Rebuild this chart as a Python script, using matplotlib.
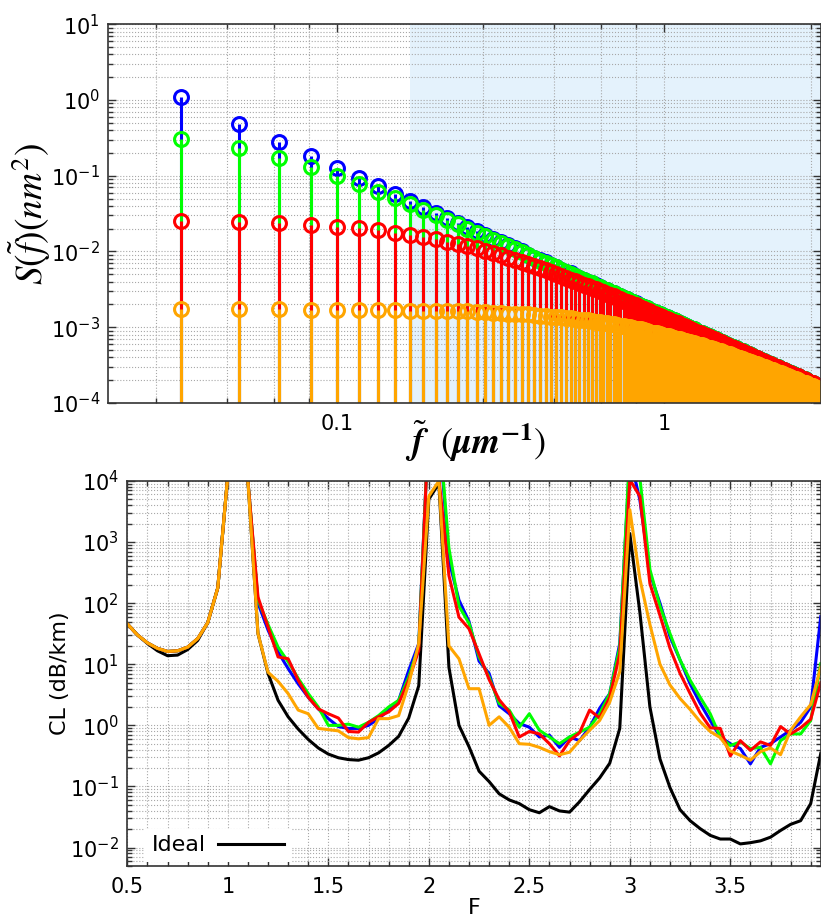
import numpy as np
import matplotlib
matplotlib.use("Agg")
import matplotlib.pyplot as plt
from matplotlib.ticker import FixedLocator, FixedFormatter, NullFormatter, LogLocator

plt.rcParams['font.family'] = ['DejaVu Sans']
plt.rcParams['mathtext.fontset'] = 'stix'

# roughness spectra, sampled at n/60 um^-1 (n = 2..180); values are log10 S in nm^2
f_stem = np.arange(2, 181) / 60
s_blue_log10 = [
    0.04, -0.31, -0.55, -0.74, -0.90, -1.03, -1.14, -1.24, -1.33, -1.41,
    -1.49, -1.56, -1.62, -1.68, -1.73, -1.78, -1.83, -1.88, -1.92, -1.96,
    -2.00, -2.04, -2.08, -2.11, -2.14, -2.18, -2.21, -2.24, -2.27, -2.29,
    -2.32, -2.35, -2.37, -2.40, -2.42, -2.44, -2.47, -2.49, -2.51, -2.53,
    -2.55, -2.57, -2.59, -2.61, -2.63, -2.65, -2.67, -2.68, -2.70, -2.72,
    -2.73, -2.75, -2.77, -2.78, -2.80, -2.81, -2.83, -2.84, -2.86, -2.87,
    -2.88, -2.90, -2.91, -2.92, -2.94, -2.95, -2.96, -2.97, -2.99, -3.00,
    -3.01, -3.02, -3.03, -3.05, -3.06, -3.07, -3.08, -3.09, -3.10, -3.11,
    -3.12, -3.13, -3.14, -3.15, -3.16, -3.17, -3.18, -3.19, -3.20, -3.21,
    -3.22, -3.23, -3.24, -3.25, -3.26, -3.26, -3.27, -3.28, -3.29, -3.30,
    -3.31, -3.32, -3.32, -3.33, -3.34, -3.35, -3.36, -3.36, -3.37, -3.38,
    -3.39, -3.39, -3.40, -3.41, -3.42, -3.42, -3.43, -3.44, -3.45, -3.45,
    -3.46, -3.47, -3.47, -3.48, -3.49, -3.49, -3.50, -3.51, -3.51, -3.52,
    -3.53, -3.53, -3.54, -3.55, -3.55, -3.56, -3.56, -3.57, -3.58, -3.58,
    -3.59, -3.59, -3.60, -3.61, -3.61, -3.62, -3.62, -3.63, -3.63, -3.64,
    -3.65, -3.65, -3.66, -3.66, -3.67, -3.67, -3.68, -3.68, -3.69, -3.69,
    -3.70, -3.71, -3.71, -3.72, -3.72, -3.73, -3.73, -3.74, -3.74, -3.75,
    -3.75, -3.76, -3.76, -3.77, -3.77, -3.78, -3.78, -3.79, -3.79]
s_green_log10 = [
    -0.51, -0.63, -0.76, -0.89, -1.00, -1.11, -1.21, -1.29, -1.37, -1.45,
    -1.52, -1.58, -1.64, -1.70, -1.75, -1.80, -1.85, -1.89, -1.93, -1.97,
    -2.01, -2.05, -2.08, -2.12, -2.15, -2.18, -2.21, -2.24, -2.27, -2.30,
    -2.33, -2.35, -2.38, -2.40, -2.42, -2.45, -2.47, -2.49, -2.51, -2.53,
    -2.55, -2.57, -2.59, -2.61, -2.63, -2.65, -2.67, -2.69, -2.70, -2.72,
    -2.73, -2.75, -2.77, -2.78, -2.80, -2.81, -2.83, -2.84, -2.86, -2.87,
    -2.88, -2.90, -2.91, -2.92, -2.94, -2.95, -2.96, -2.97, -2.99, -3.00,
    -3.01, -3.02, -3.03, -3.05, -3.06, -3.07, -3.08, -3.09, -3.10, -3.11,
    -3.12, -3.13, -3.14, -3.15, -3.16, -3.17, -3.18, -3.19, -3.20, -3.21,
    -3.22, -3.23, -3.24, -3.25, -3.26, -3.26, -3.27, -3.28, -3.29, -3.30,
    -3.31, -3.32, -3.32, -3.33, -3.34, -3.35, -3.36, -3.36, -3.37, -3.38,
    -3.39, -3.39, -3.40, -3.41, -3.42, -3.42, -3.43, -3.44, -3.45, -3.45,
    -3.46, -3.47, -3.47, -3.48, -3.49, -3.49, -3.50, -3.51, -3.51, -3.52,
    -3.53, -3.53, -3.54, -3.55, -3.55, -3.56, -3.56, -3.57, -3.58, -3.58,
    -3.59, -3.59, -3.60, -3.61, -3.61, -3.62, -3.62, -3.63, -3.63, -3.64,
    -3.65, -3.65, -3.66, -3.66, -3.67, -3.67, -3.68, -3.68, -3.69, -3.69,
    -3.70, -3.71, -3.71, -3.72, -3.72, -3.73, -3.73, -3.74, -3.74, -3.75,
    -3.75, -3.76, -3.76, -3.77, -3.77, -3.78, -3.78, -3.79, -3.79]
s_red_log10 = [
    -1.60, -1.61, -1.63, -1.65, -1.67, -1.69, -1.72, -1.75, -1.78, -1.81,
    -1.84, -1.87, -1.90, -1.93, -1.96, -1.99, -2.02, -2.05, -2.08, -2.11,
    -2.14, -2.17, -2.19, -2.22, -2.25, -2.27, -2.30, -2.32, -2.35, -2.37,
    -2.39, -2.41, -2.44, -2.46, -2.48, -2.50, -2.52, -2.54, -2.56, -2.58,
    -2.59, -2.61, -2.63, -2.65, -2.67, -2.68, -2.70, -2.71, -2.73, -2.75,
    -2.76, -2.78, -2.79, -2.81, -2.82, -2.84, -2.85, -2.86, -2.88, -2.89,
    -2.90, -2.92, -2.93, -2.94, -2.95, -2.97, -2.98, -2.99, -3.00, -3.01,
    -3.03, -3.04, -3.05, -3.06, -3.07, -3.08, -3.09, -3.10, -3.11, -3.12,
    -3.13, -3.14, -3.15, -3.16, -3.17, -3.18, -3.19, -3.20, -3.21, -3.22,
    -3.23, -3.24, -3.25, -3.26, -3.26, -3.27, -3.28, -3.29, -3.30, -3.31,
    -3.31, -3.32, -3.33, -3.34, -3.35, -3.35, -3.36, -3.37, -3.38, -3.38,
    -3.39, -3.40, -3.41, -3.41, -3.42, -3.43, -3.44, -3.44, -3.45, -3.46,
    -3.46, -3.47, -3.48, -3.48, -3.49, -3.50, -3.50, -3.51, -3.52, -3.52,
    -3.53, -3.54, -3.54, -3.55, -3.56, -3.56, -3.57, -3.57, -3.58, -3.59,
    -3.59, -3.60, -3.60, -3.61, -3.62, -3.62, -3.63, -3.63, -3.64, -3.64,
    -3.65, -3.65, -3.66, -3.67, -3.67, -3.68, -3.68, -3.69, -3.69, -3.70,
    -3.70, -3.71, -3.71, -3.72, -3.72, -3.73, -3.73, -3.74, -3.74, -3.75,
    -3.75, -3.76, -3.76, -3.77, -3.77, -3.78, -3.78, -3.79, -3.79]
s_orange_log10 = [
    -2.76, -2.76, -2.76, -2.77, -2.77, -2.77, -2.77, -2.77, -2.78, -2.78,
    -2.78, -2.79, -2.79, -2.79, -2.80, -2.80, -2.81, -2.81, -2.82, -2.82,
    -2.83, -2.83, -2.84, -2.85, -2.85, -2.86, -2.86, -2.87, -2.88, -2.88,
    -2.89, -2.90, -2.90, -2.91, -2.92, -2.93, -2.93, -2.94, -2.95, -2.96,
    -2.96, -2.97, -2.98, -2.99, -3.00, -3.00, -3.01, -3.02, -3.03, -3.03,
    -3.04, -3.05, -3.06, -3.07, -3.07, -3.08, -3.09, -3.10, -3.11, -3.11,
    -3.12, -3.13, -3.14, -3.15, -3.15, -3.16, -3.17, -3.18, -3.18, -3.19,
    -3.20, -3.21, -3.21, -3.22, -3.23, -3.24, -3.24, -3.25, -3.26, -3.27,
    -3.27, -3.28, -3.29, -3.29, -3.30, -3.31, -3.32, -3.32, -3.33, -3.34,
    -3.34, -3.35, -3.36, -3.36, -3.37, -3.38, -3.38, -3.39, -3.40, -3.40,
    -3.41, -3.42, -3.42, -3.43, -3.44, -3.44, -3.45, -3.46, -3.46, -3.47,
    -3.47, -3.48, -3.49, -3.49, -3.50, -3.50, -3.51, -3.52, -3.52, -3.53,
    -3.53, -3.54, -3.55, -3.55, -3.56, -3.56, -3.57, -3.57, -3.58, -3.59,
    -3.59, -3.60, -3.60, -3.61, -3.61, -3.62, -3.62, -3.63, -3.63, -3.64,
    -3.65, -3.65, -3.66, -3.66, -3.67, -3.67, -3.68, -3.68, -3.69, -3.69,
    -3.70, -3.70, -3.71, -3.71, -3.72, -3.72, -3.73, -3.73, -3.74, -3.74,
    -3.74, -3.75, -3.75, -3.76, -3.76, -3.77, -3.77, -3.78, -3.78, -3.79,
    -3.79, -3.80, -3.80, -3.80, -3.81, -3.81, -3.82, -3.82, -3.83]

# confinement loss vs normalised frequency F = 0.50 .. 3.95; values are log10 CL in dB/km
F = np.arange(50, 396, 5) / 100
cl_ideal_log10 = [
    1.66, 1.48, 1.34, 1.22, 1.14, 1.15, 1.24, 1.39, 1.68, 2.25,
    4.1, 5.0, 4.0, 1.50, 0.85, 0.41, 0.14, -0.06, -0.23, -0.37,
    -0.47, -0.53, -0.56, -0.57, -0.53, -0.45, -0.33, -0.18, 0.12, 0.65,
    3.70, 3.96, 0.95, 0.00, -0.35, -0.75, -0.92, -1.12, -1.22, -1.28,
    -1.38, -1.43, -1.33, -1.40, -1.42, -1.25, -1.05, -0.86, -0.62, -0.05,
    3.14, 1.85, 0.30, -0.55, -1.02, -1.38, -1.56, -1.69, -1.80, -1.86,
    -1.86, -1.94, -1.92, -1.89, -1.83, -1.72, -1.62, -1.56, -1.28, -0.46]
cl_blue_log10 = [
    1.66, 1.48, 1.35, 1.26, 1.21, 1.22, 1.28, 1.42, 1.68, 2.25,
    4.1, 5.0, 4.0, 2.00, 1.56, 1.20, 0.93, 0.68, 0.46, 0.27,
    0.11, -0.02, -0.05, -0.05, 0.00, 0.11, 0.25, 0.41, 0.90, 1.34,
    5.0, 4.9, 2.70, 2.05, 1.70, 1.05, 0.85, 0.32, 0.19, 0.03,
    -0.03, -0.19, -0.16, -0.36, -0.19, -0.25, -0.03, 0.28, 0.52, 1.34,
    4.4, 3.69, 2.49, 2.00, 1.45, 1.07, 0.68, 0.36, 0.08, -0.19,
    -0.30, -0.38, -0.63, -0.36, -0.30, -0.19, -0.08, 0.05, 0.30, 1.78]
cl_green_log10 = [
    1.66, 1.48, 1.35, 1.26, 1.21, 1.22, 1.28, 1.42, 1.68, 2.25,
    4.1, 5.0, 4.0, 2.05, 1.65, 1.28, 1.04, 0.77, 0.52, 0.30,
    0.00, 0.00, 0.02, -0.03, 0.05, 0.16, 0.30, 0.41, 0.79, 1.30,
    5.0, 4.9, 2.90, 1.95, 1.67, 1.12, 0.79, 0.36, 0.25, -0.03,
    0.19, -0.08, -0.19, -0.30, -0.19, -0.11, -0.03, 0.19, 0.52, 1.28,
    4.5, 4.05, 2.55, 1.95, 1.50, 1.07, 0.74, 0.46, 0.19, -0.19,
    -0.33, -0.27, -0.38, -0.36, -0.63, -0.25, -0.14, -0.14, 0.08, 1.01]
cl_red_log10 = [
    1.66, 1.48, 1.35, 1.26, 1.21, 1.22, 1.28, 1.42, 1.68, 2.25,
    4.1, 5.0, 4.0, 2.10, 1.61, 1.12, 1.09, 0.74, 0.46, 0.27,
    0.19, 0.12, -0.10, -0.11, 0.05, 0.14, 0.22, 0.36, 0.74, 1.23,
    5.0, 4.05, 2.45, 1.77, 1.58, 1.17, 0.75, 0.42, 0.22, -0.19,
    -0.10, -0.14, -0.30, -0.50, -0.25, -0.12, 0.25, 0.12, 0.46, 1.17,
    4.02, 3.75, 2.32, 1.80, 1.26, 0.85, 0.52, 0.20, -0.04, -0.05,
    -0.50, -0.25, -0.41, -0.27, -0.33, -0.02, -0.14, -0.04, 0.10, 0.70]
cl_orange_log10 = [
    1.66, 1.48, 1.35, 1.26, 1.21, 1.22, 1.28, 1.42, 1.68, 2.25,
    4.1, 5.0, 4.0, 1.50, 0.87, 0.72, 0.52, 0.25, 0.19, -0.05,
    -0.07, -0.09, -0.20, -0.22, -0.20, 0.11, 0.11, 0.16, 0.68, 1.34,
    3.75, 4.00, 1.30, 1.09, 0.60, 0.60, 0.00, 0.14, -0.03, -0.30,
    -0.31, -0.36, -0.43, -0.48, -0.44, -0.25, -0.08, 0.08, 0.38, 0.88,
    3.53, 2.40, 1.65, 1.00, 0.66, 0.44, 0.26, 0.06, -0.10, -0.20,
    -0.42, -0.49, -0.57, -0.43, -0.37, -0.48, -0.08, 0.14, 0.34, 0.95]

colors = ['#0000ff', '#00ff00', '#ff0000', '#ffa500']
shade_from = 10 / 60

fig = plt.figure(figsize=(8.21, 9.24), dpi=100)

# --- spectra (stem plot) ---
ax1 = fig.add_axes([0.1319, 0.5639, 0.8677, 0.4098])
ax1.set_xscale('log')
ax1.set_yscale('log')
ax1.axvspan(shade_from, 3, color='#e4f2fc', lw=0, zorder=0)
for L, c in zip([s_blue_log10, s_green_log10, s_red_log10, s_orange_log10], colors):
    s = 10 ** np.asarray(L)
    ax1.vlines(f_stem, 1e-6, s, colors=c, lw=2.2)
    ax1.plot(f_stem, s, 'o', mfc='none', mec=c, ms=10, mew=2.2)
ax1.set_xlim(0.02, 3)
ax1.set_ylim(1e-4, 10)
ax1.xaxis.set_major_locator(FixedLocator([0.1, 1]))
ax1.xaxis.set_major_formatter(FixedFormatter(['0.1', '1']))
ax1.xaxis.set_minor_locator(FixedLocator([0.028, 0.046, 0.064, 0.082, 0.28, 0.46, 0.64, 0.82, 2.8]))
ax1.xaxis.set_minor_formatter(NullFormatter())
ax1.yaxis.set_major_locator(FixedLocator(10.0 ** np.arange(-4, 2)))
ax1.yaxis.set_minor_locator(LogLocator(base=10, subs=np.arange(2, 10), numticks=20))
ax1.yaxis.set_minor_formatter(NullFormatter())
ax1.set_ylabel(r'$S(\tilde{f})(nm^2)$', fontsize=27)
ax1.yaxis.set_label_coords(-0.078, 0.5)
ax1.set_xlabel(r'$\tilde{\mathbfit{f}}\ \ (\mathbfit{\mu m}^{\mathbf{-1}})$', fontsize=26)
ax1.xaxis.set_label_coords(0.515, -0.04)

# --- confinement loss ---
ax2 = fig.add_axes([0.1551, 0.0628, 0.8446, 0.4167])
ax2.set_yscale('log')
ax2.plot(F, 10 ** np.array(cl_ideal_log10), color='black', lw=2.2, label='Ideal')
for L, c in zip([cl_blue_log10, cl_green_log10, cl_red_log10, cl_orange_log10], colors):
    ax2.plot(F, 10 ** np.array(L), color=c, lw=2.2)
ax2.set_xlim(0.5, 3.95)
ax2.set_ylim(5e-3, 1e4)
ax2.xaxis.set_major_locator(FixedLocator([0.5, 1, 1.5, 2, 2.5, 3, 3.5]))
ax2.xaxis.set_major_formatter(FixedFormatter(['0.5', '1', '1.5', '2', '2.5', '3', '3.5']))
ax2.xaxis.set_minor_locator(FixedLocator(np.arange(5, 40) / 10))
ax2.xaxis.set_minor_formatter(NullFormatter())
ax2.yaxis.set_major_locator(FixedLocator(10.0 ** np.arange(-2, 5)))
ax2.yaxis.set_minor_locator(LogLocator(base=10, subs=np.arange(2, 10), numticks=20))
ax2.yaxis.set_minor_formatter(NullFormatter())
ax2.set_ylabel('CL (dB/km)', fontsize=16)
ax2.yaxis.set_label_coords(-0.083, 0.5)
ax2.set_xlabel('F', fontsize=16)
ax2.xaxis.set_label_coords(0.5, -0.082)
ax2.legend(loc='lower left', bbox_to_anchor=(0.026, 0.0104), borderaxespad=0,
           markerfirst=False, handlelength=2.97, handletextpad=0.54, borderpad=0.3,
           fontsize=16, frameon=True, framealpha=1, fancybox=False, edgecolor='none')

for ax in (ax1, ax2):
    ax.grid(True, which='both', ls=':', color='#a8a8a8', lw=0.8)
    ax.tick_params(which='both', direction='in', top=True, right=True, labelsize=15,
                   color='#333333', width=1)
    ax.tick_params(which='major', length=6)
    ax.tick_params(which='minor', length=3.5)
    ax.tick_params(axis='x', pad=8)
    ax.tick_params(axis='y', pad=6)
    for sp in ax.spines.values():
        sp.set_color('#333333')
        sp.set_linewidth(1.2)

fig.savefig('out.png', dpi=100)
